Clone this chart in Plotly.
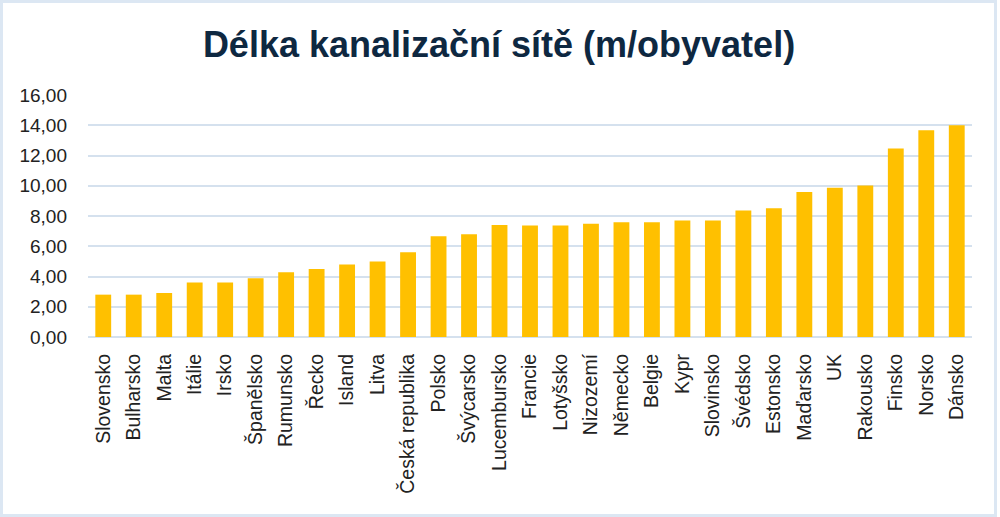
import plotly.graph_objects as go

countries = ["Slovensko", "Bulharsko", "Malta", "Itálie", "Irsko", "Španělsko", "Rumunsko",
             "Řecko", "Island", "Litva", "Česká republika", "Polsko", "Švýcarsko",
             "Lucembursko", "Francie", "Lotyšsko", "Nizozemí", "Německo", "Belgie", "Kypr",
             "Slovinsko", "Švédsko", "Estonsko", "Maďarsko", "UK", "Rakousko", "Finsko",
             "Norsko", "Dánsko"]
values = [2.80, 2.80, 2.91, 3.60, 3.60, 3.88, 4.28,
          4.50, 4.79, 5.00, 5.60, 6.66, 6.79,
          7.40, 7.38, 7.38, 7.49, 7.58, 7.58, 7.71,
          7.71, 8.37, 8.51, 9.58, 9.87, 10.02, 12.46,
          13.67, 14.00]
y_ticks = [0, 2, 4, 6, 8, 10, 12, 14, 16]
y_tick_labels = ["0,00", "2,00", "4,00", "6,00", "8,00", "10,00", "12,00", "14,00", "16,00"]

W, H = 1000, 517
L, R, T, B = 88, 28, 95, 180
pw, ph = W - L - R, H - T - B

fig = go.Figure(go.Bar(x=countries, y=values, marker=dict(color="#FFC000", line=dict(width=0))))

def px_to_paper_x(px):
    return (px - L) / pw

def px_to_paper_y(py):
    return (H - B - py) / ph

fig.update_layout(
    width=W, height=H,
    margin=dict(l=L, r=R, t=T, b=B),
    paper_bgcolor="white", plot_bgcolor="white",
    bargap=0.48,
    showlegend=False,
    title=dict(text="<b>Délka kanalizační sítě (m/obyvatel)</b>",
               x=px_to_paper_x(499), xanchor="center", xref="paper",
               y=1 - 44 / H, yanchor="middle", yref="container",
               font=dict(family="Liberation Sans, Arial, sans-serif", size=36, color="#0E2841")),
    font=dict(family="Liberation Sans, Arial, sans-serif", color="#333333"),
    xaxis=dict(tickangle=-90, tickfont=dict(size=19.5, color="#222222"),
               showgrid=False, showline=False, ticks="", ticklabelstandoff=12),
    yaxis=dict(range=[0, 16], tickvals=y_ticks, ticktext=y_tick_labels,
               tickfont=dict(size=19, color="#222222"),
               showgrid=True, gridcolor="#D5E1EE", gridwidth=2,
               zeroline=True, zerolinecolor="#D5E1EE", zerolinewidth=2,
               showline=False, ticks="", ticklabelstandoff=20),
    shapes=[dict(type="rect", xref="paper", yref="paper",
                 x0=px_to_paper_x(1.5), x1=px_to_paper_x(995.5),
                 y0=px_to_paper_y(515.5), y1=px_to_paper_y(1.5),
                 line=dict(color="#DCE7F3", width=3), fillcolor="rgba(0,0,0,0)", layer="below")],
)

fig.write_html("out.html")
